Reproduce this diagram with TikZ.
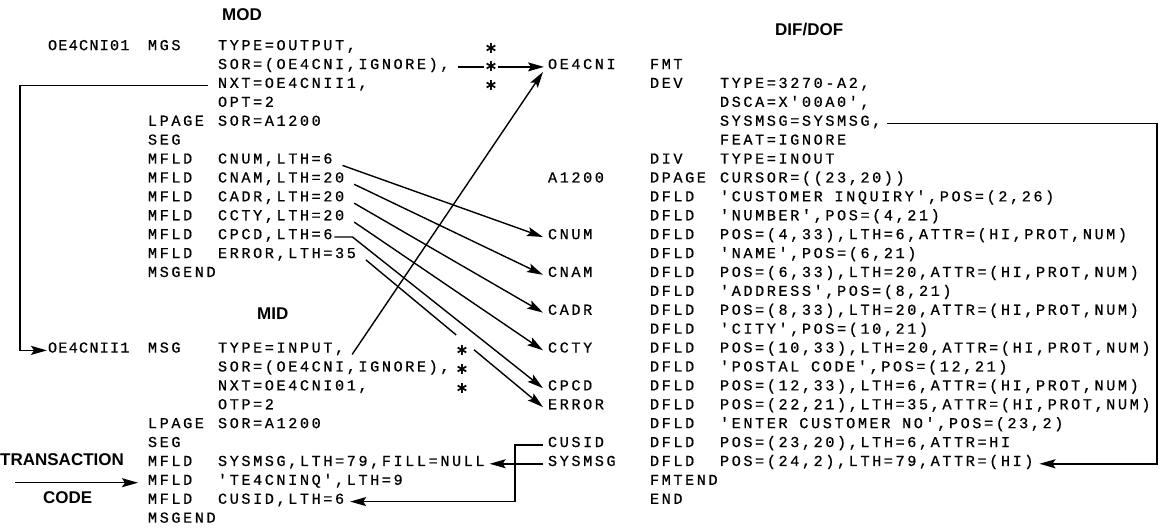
\documentclass[tikz,border=0pt]{standalone}
\usepackage{fontspec}
\usetikzlibrary{arrows.meta,calc}
\newfontfamily\codefam{Liberation Mono}[LetterSpace=17.0,Ligatures=TeXOff,FakeBold=0.6]
\newfontfamily\codefamn{Liberation Mono}[LetterSpace=8.0,Ligatures=TeXOff,FakeBold=0.6]
\newfontfamily\headfam{Liberation Sans}
\newfontfamily\starfam{DejaVu Sans}
\newcommand\ry[1]{(48+(#1-1)*18.9)}
\tikzset{
  code/.style={font={\codefam\fontsize{15.2}{18}\selectfont}, anchor=mid west, inner sep=0pt, outer sep=0pt},
  coden/.style={code, font={\codefamn\fontsize{15.2}{18}\selectfont}},
  head/.style={font={\headfam\bfseries\fontsize{17}{19}\selectfont}, anchor=mid west, inner sep=0pt},
  ast/.style={font={\starfam\bfseries\fontsize{16}{16}\selectfont}, fill=white, inner sep=0pt, minimum size=13pt},
  conn/.style={line width=1.4pt},
  arr/.style={conn, -{Stealth[length=16pt,width=9pt,inset=3pt]}},
}
\begin{document}
\begin{tikzpicture}[x=1pt,y=-1pt]
\useasboundingbox (0,0) rectangle (1166,529);
% headers
\node[head] (hmod) at (222,18) {MOD};
\node[head] (hmid) at (257,317) {MID};
\node[head] (hdif) at (775,33) {DIF/DOF};
\node[head] (htr) at (0,{\ry{23}}) {TRANSACTION};
\node[head] (hcode) at (43,{\ry{25}}) {CODE};
% MOD
\node[coden] (a1) at (48,{\ry{1}}) {OE4CNI01};
\node[code] (b1) at (148,{\ry{1}}) {MGS};
\node[code] (c1) at (218,{\ry{1}}) {TYPE=OUTPUT,};
\node[code] (c2) at (218,{\ry{2}}) {SOR=(OE4CNI,IGNORE),};
\node[code] (c3) at (218,{\ry{3}}) {NXT=OE4CNII1,};
\node[code] (c4) at (218,{\ry{4}}) {OPT=2};
\node[code] (b5) at (148,{\ry{5}}) {LPAGE};
\node[code] (c5) at (218,{\ry{5}}) {SOR=A1200};
\node[code] (b6) at (148,{\ry{6}}) {SEG};
\node[code] (b7) at (148,{\ry{7}}) {MFLD};
\node[code] (c7) at (218,{\ry{7}}) {CNUM,LTH=6};
\node[code] (b8) at (148,{\ry{8}}) {MFLD};
\node[code] (c8) at (218,{\ry{8}}) {CNAM,LTH=20};
\node[code] (b9) at (148,{\ry{9}}) {MFLD};
\node[code] (c9) at (218,{\ry{9}}) {CADR,LTH=20};
\node[code] (b10) at (148,{\ry{10}}) {MFLD};
\node[code] (c10) at (218,{\ry{10}}) {CCTY,LTH=20};
\node[code] (b11) at (148,{\ry{11}}) {MFLD};
\node[code] (c11) at (218,{\ry{11}}) {CPCD,LTH=6};
\node[code] (b12) at (148,{\ry{12}}) {MFLD};
\node[code] (c12) at (218,{\ry{12}}) {ERROR,LTH=35};
\node[code] (b13) at (148,{\ry{13}}) {MSGEND};
% MID
\node[coden] (a17) at (48,{\ry{17}}) {OE4CNII1};
\node[code] (b17) at (148,{\ry{17}}) {MSG};
\node[code] (c17) at (218,{\ry{17}}) {TYPE=INPUT,};
\node[code] (c18) at (218,{\ry{18}}) {SOR=(OE4CNI,IGNORE),};
\node[code] (c19) at (218,{\ry{19}}) {NXT=OE4CNI01,};
\node[code] (c20) at (218,{\ry{20}}) {OTP=2};
\node[code] (b21) at (148,{\ry{21}}) {LPAGE};
\node[code] (c21) at (218,{\ry{21}}) {SOR=A1200};
\node[code] (b22) at (148,{\ry{22}}) {SEG};
\node[code] (b23) at (148,{\ry{23}}) {MFLD};
\node[code] (c23) at (218,{\ry{23}}) {SYSMSG,LTH=79,FILL=NULL};
\node[code] (b24) at (148,{\ry{24}}) {MFLD};
\node[code] (c24) at (218,{\ry{24}}) {'TE4CNINQ',LTH=9};
\node[code] (b25) at (148,{\ry{25}}) {MFLD};
\node[code] (c25) at (218,{\ry{25}}) {CUSID,LTH=6};
\node[code] (b26) at (148,{\ry{26}}) {MSGEND};
% middle labels
\node[code] (m2) at (548,{\ry{2}}) {OE4CNI};
\node[code] (m8) at (548,{\ry{8}}) {A1200};
\node[code] (m11) at (548,{\ry{11}}) {CNUM};
\node[code] (m13) at (548,{\ry{13}}) {CNAM};
\node[code] (m15) at (548,{\ry{15}}) {CADR};
\node[code] (m17) at (548,{\ry{17}}) {CCTY};
\node[code] (m19) at (548,{\ry{19}}) {CPCD};
\node[code] (m20) at (548,{\ry{20}}) {ERROR};
\node[code] (m22) at (548,{\ry{22}}) {CUSID};
\node[code] (m23) at (548,{\ry{23}}) {SYSMSG};
% DIF/DOF
\node[code] (d2) at (650,{\ry{2}}) {FMT};
\node[code] (d3) at (650,{\ry{3}}) {DEV};
\node[code] (e3) at (720,{\ry{3}}) {TYPE=3270-A2,};
\node[code] (e4) at (720,{\ry{4}}) {DSCA=X'00A0',};
\node[code] (e5) at (720,{\ry{5}}) {SYSMSG=SYSMSG,};
\node[code] (e6) at (720,{\ry{6}}) {FEAT=IGNORE};
\node[code] (d7) at (650,{\ry{7}}) {DIV};
\node[code] (e7) at (720,{\ry{7}}) {TYPE=INOUT};
\node[code] (d8) at (650,{\ry{8}}) {DPAGE};
\node[code] (e8) at (720,{\ry{8}}) {CURSOR=((23,20))};
\foreach \r/\t in {9/{'CUSTOMER INQUIRY',POS=(2,26)},
  10/{'NUMBER',POS=(4,21)},
  11/{POS=(4,33),LTH=6,ATTR=(HI,PROT,NUM)},
  12/{'NAME',POS=(6,21)},
  13/{POS=(6,33),LTH=20,ATTR=(HI,PROT,NUM)},
  14/{'ADDRESS',POS=(8,21)},
  15/{POS=(8,33),LTH=20,ATTR=(HI,PROT,NUM)},
  16/{'CITY',POS=(10,21)},
  17/{POS=(10,33),LTH=20,ATTR=(HI,PROT,NUM)},
  18/{'POSTAL CODE',POS=(12,21)},
  19/{POS=(12,33),LTH=6,ATTR=(HI,PROT,NUM)},
  20/{POS=(22,21),LTH=35,ATTR=(HI,PROT,NUM)},
  21/{'ENTER CUSTOMER NO',POS=(23,2)},
  22/{POS=(23,20),LTH=6,ATTR=HI},
  23/{POS=(24,2),LTH=79,ATTR=(HI)}}{
  \node[code] (d\r) at (650,{\ry{\r}}) {DFLD};
  \node[code] (e\r) at (720,{\ry{\r}}) {\t};
}
\node[code] (d24) at (650,{\ry{24}}) {FMTEND};
\node[code] (d25) at (650,{\ry{25}}) {END};
% top asterisks
\node[ast] (s1) at (491,{\ry{1}}) {∗};
\node[ast] (s2) at (491,{\ry{2}}) {∗};
\node[ast] (s3) at (491,{\ry{3}}) {∗};
% free corner points
\coordinate (lt) at (20,{\ry{3}});
\coordinate (lb) at (20,{\ry{17}});
\coordinate (cv1) at (515,{\ry{22}});
\coordinate (cv2) at (515,{\ry{25}});
\coordinate (rt) at (1157,{\ry{5}});
\coordinate (rb) at (1157,{\ry{23}});
\coordinate (tcs) at (15,{\ry{24}});
\coordinate (eS) at ([shift={(10,4)}]c12.mid east);
\coordinate (eE) at ([xshift=-5pt]m20.mid west);
% connectors
\draw[conn, shorten <=8pt] (c2.mid east) -- (s2);
\draw[arr, shorten >=4pt] (s2) -- (m2.mid west);
\draw[arr] ([xshift=-10pt]c3.mid west) -- (lt) -- (lb) -- ([xshift=-1pt]a17.mid west);
\draw[arr] ([shift={(8,4)}]c17.mid east) -- ([shift={(-5,5)}]m2.mid west);
\draw[arr] ([shift={(10,4)}]c7.mid east) -- ([xshift=-5pt]m11.mid west);
\draw[arr] ([shift={(10,4)}]c8.mid east) -- ([xshift=-5pt]m13.mid west);
\draw[arr] ([shift={(10,4)}]c9.mid east) -- ([xshift=-5pt]m15.mid west);
\draw[arr] ([shift={(10,4)}]c10.mid east) -- ([xshift=-5pt]m17.mid west);
\draw[arr] ([xshift=2pt]c11.mid east) -- ++(18,0) -- ([xshift=-5pt]m19.mid west);
\draw[conn] (eS) -- ($(eS)!0.51!(eE)$);
\draw[arr] ($(eS)!0.61!(eE)$) -- (eE);
\draw[arr] ([xshift=-5pt]m22.mid west) -- (cv1) -- (cv2) -- ([xshift=6pt]c25.mid east);
\draw[arr] ([xshift=-5pt]m23.mid west) -- ([xshift=5pt]c23.mid east);
\draw[arr] ([xshift=6pt]e5.mid east) -- (rt) -- (rb) -- ([xshift=6pt]e23.mid east);
\draw[arr] (tcs) -- ([xshift=-10pt]b24.mid west);
% middle asterisks
\node[ast] (t17) at (462,{\ry{17}}) {∗};
\node[ast] (t18) at (462,{\ry{18}}) {∗};
\node[ast] (t19) at (462,{\ry{19}}) {∗};
\end{tikzpicture}
\end{document}
